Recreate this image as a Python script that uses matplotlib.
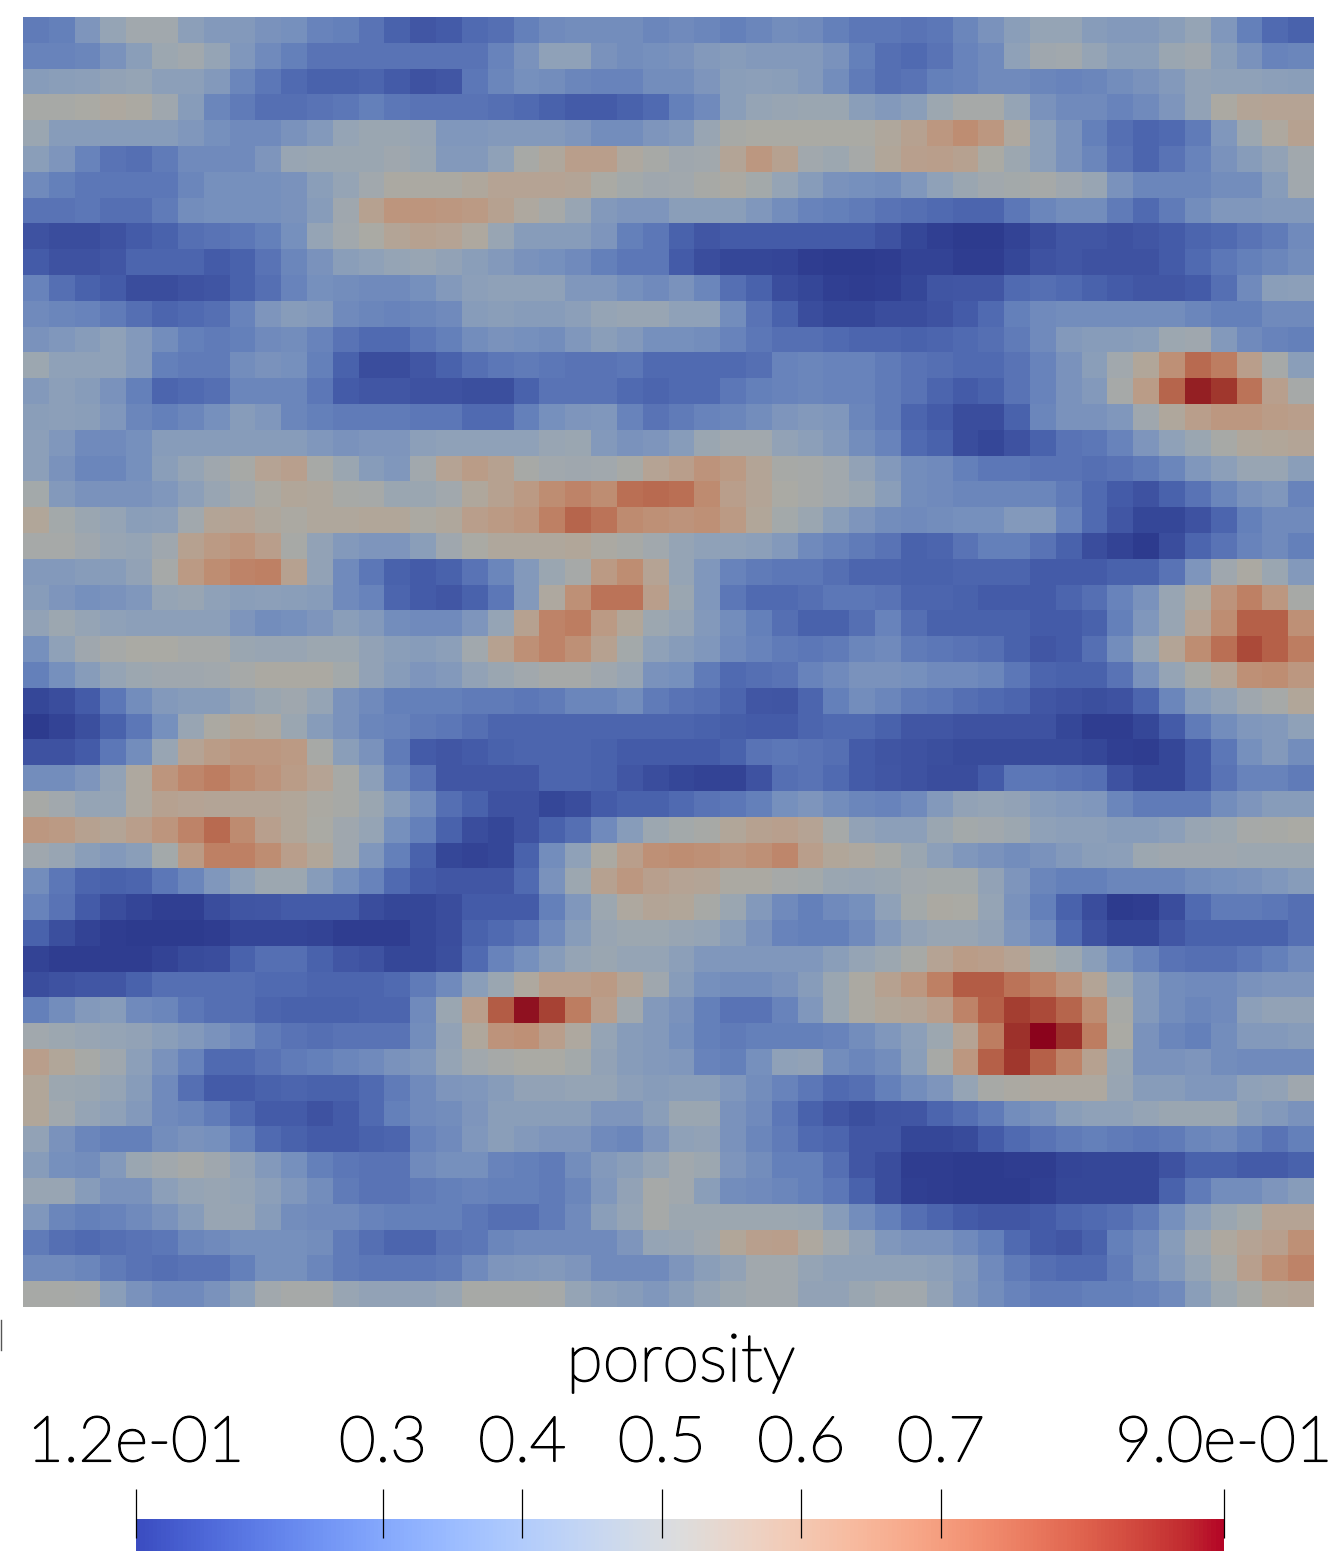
import numpy as np
import matplotlib
matplotlib.use("Agg")
import matplotlib.pyplot as plt
import matplotlib.patheffects as pe
from matplotlib.colors import ListedColormap, Normalize
from matplotlib.cm import ScalarMappable
from matplotlib.lines import Line2D

# porosity per cell, top row first
row_00 = [.26,.27,.34,.42,.47,.47,.39,.36,.36,.33,.32,.28,.27,.24,.2,.18,.19,.22,.23,.27,.3,.31,.31,.31,.29, .3,.29,.27,.29,.31,.3,.27,.25,.25,.24,.25,.29,.33,.38,.42,.42,.37,.36,.36,.38,.42,.35,.27,.22,.2]
row_01 = [.28,.28,.29,.33,.38,.45,.47,.42,.35,.3,.27,.24,.24,.24,.24,.24,.24,.24,.28,.33,.4,.4,.33,.31,.32, .33,.36,.37,.36,.36,.36,.33,.27,.23,.22,.24,.28,.3,.4,.46,.47,.42,.38,.38,.44,.46,.38,.33,.28,.29]
row_02 = [.37,.38,.39,.41,.42,.39,.39,.36,.29,.25,.22,.2,.2,.21,.19,.17,.18,.25,.29,.32,.31,.29,.28,.28,.31, .31,.34,.38,.39,.38,.36,.31,.26,.23,.24,.27,.28,.3,.3,.29,.28,.29,.31,.33,.36,.41,.4,.4,.39,.38]
row_03 = [.5,.5,.51,.53,.52,.46,.37,.29,.26,.23,.23,.24,.25,.27,.25,.24,.24,.24,.23,.22,.2,.19,.19,.2,.22, .27,.3,.38,.42,.43,.44,.44,.38,.36,.38,.45,.49,.49,.42,.33,.3,.3,.28,.3,.34,.41,.52,.56,.57,.57]
row_04 = [.44,.37,.37,.37,.37,.37,.35,.32,.3,.3,.33,.36,.42,.44,.44,.43,.35,.35,.36,.36,.36,.34,.31,.31,.34, .36,.43,.5,.51,.51,.51,.51,.51,.54,.58,.63,.67,.63,.53,.39,.33,.27,.23,.21,.22,.26,.35,.45,.53,.58]
row_05 = [.38,.34,.28,.24,.23,.26,.3,.3,.3,.34,.43,.44,.44,.44,.46,.44,.36,.36,.4,.5,.54,.6,.6,.53,.5, .46,.47,.56,.63,.58,.47,.45,.49,.55,.59,.6,.58,.51,.45,.39,.33,.29,.24,.21,.24,.28,.33,.37,.41,.47]
row_06 = [.3,.27,.25,.25,.25,.25,.29,.32,.32,.32,.33,.38,.42,.47,.52,.52,.52,.54,.57,.57,.57,.56,.51,.48,.46, .47,.5,.52,.48,.42,.37,.33,.32,.31,.35,.4,.44,.47,.48,.49,.46,.43,.33,.29,.29,.29,.31,.31,.37,.47]
row_07 = [.24,.24,.25,.23,.23,.26,.31,.32,.32,.32,.33,.37,.46,.58,.64,.64,.63,.62,.58,.53,.49,.43,.36,.34,.34, .38,.38,.38,.35,.31,.28,.27,.26,.24,.23,.22,.21,.21,.25,.29,.31,.31,.26,.22,.26,.31,.35,.35,.36,.36]
row_08 = [.17,.16,.16,.17,.19,.2,.23,.24,.25,.27,.32,.42,.47,.51,.56,.58,.57,.53,.43,.37,.37,.37,.34,.27,.25, .2,.18,.19,.19,.19,.19,.19,.19,.17,.15,.135,.125,.125,.14,.16,.18,.18,.17,.18,.19,.21,.22,.24,.26,.3]
row_09 = [.19,.17,.17,.18,.21,.21,.21,.19,.2,.24,.29,.33,.38,.4,.42,.43,.41,.38,.36,.33,.32,.3,.27,.25,.25, .19,.16,.15,.15,.145,.13,.125,.125,.13,.14,.14,.13,.13,.15,.17,.18,.17,.17,.17,.19,.22,.25,.27,.29,.31]
row_10 = [.28,.23,.2,.19,.16,.16,.17,.175,.2,.23,.28,.32,.31,.3,.3,.32,.36,.39,.4,.4,.4,.35,.35,.32,.3, .33,.29,.23,.2,.16,.15,.135,.13,.135,.15,.175,.18,.18,.22,.23,.22,.2,.19,.18,.18,.19,.23,.3,.38,.39]
row_11 = [.3,.29,.28,.26,.23,.21,.22,.23,.28,.34,.37,.36,.3,.29,.28,.29,.3,.37,.38,.37,.37,.39,.42,.43,.43, .4,.4,.31,.24,.2,.16,.15,.15,.16,.16,.17,.19,.22,.27,.3,.31,.31,.31,.31,.31,.29,.27,.27,.3,.3]
row_12 = [.33,.35,.37,.4,.36,.31,.27,.26,.27,.3,.31,.28,.24,.22,.22,.25,.27,.31,.33,.32,.31,.35,.38,.36,.32, .32,.31,.28,.25,.23,.23,.22,.21,.21,.2,.21,.22,.23,.26,.3,.36,.37,.37,.38,.45,.46,.36,.3,.28,.27]
row_13 = [.45,.4,.4,.4,.36,.27,.26,.26,.31,.33,.32,.27,.2,.16,.16,.18,.2,.23,.25,.26,.25,.24,.24,.25,.22, .22,.22,.22,.23,.28,.29,.28,.28,.26,.24,.23,.22,.22,.24,.28,.33,.38,.47,.55,.66,.76,.72,.6,.49,.38]
row_14 = [.36,.39,.37,.33,.27,.21,.22,.23,.29,.29,.29,.25,.19,.18,.18,.17,.17,.165,.165,.2,.24,.24,.24,.22,.21, .22,.22,.25,.27,.28,.29,.28,.28,.26,.24,.21,.19,.2,.24,.28,.33,.36,.49,.61,.77,.88,.85,.74,.59,.49]
row_15 = [.38,.39,.38,.35,.29,.27,.29,.32,.37,.35,.29,.27,.26,.26,.26,.25,.25,.22,.22,.27,.32,.34,.35,.28,.24, .26,.28,.29,.31,.34,.36,.35,.29,.26,.21,.19,.16,.16,.2,.29,.33,.33,.35,.46,.54,.6,.63,.63,.61,.6]
row_16 = [.39,.35,.3,.3,.32,.37,.37,.37,.37,.37,.37,.35,.33,.34,.34,.39,.4,.4,.4,.4,.43,.44,.36,.33,.34, .37,.44,.47,.47,.41,.39,.36,.31,.28,.22,.2,.16,.15,.17,.2,.24,.25,.28,.34,.4,.44,.5,.54,.55,.56]
row_17 = [.39,.33,.29,.29,.32,.38,.42,.46,.5,.57,.59,.5,.44,.37,.35,.47,.57,.61,.58,.5,.47,.46,.47,.5,.57, .6,.65,.62,.56,.5,.49,.47,.41,.36,.31,.3,.27,.25,.25,.24,.24,.23,.24,.26,.29,.35,.39,.43,.43,.38]
row_18 = [.48,.36,.33,.33,.33,.35,.39,.43,.47,.52,.55,.54,.5,.49,.44,.44,.47,.54,.58,.62,.67,.7,.67,.75,.76, .75,.68,.6,.56,.51,.49,.47,.44,.38,.31,.3,.29,.29,.29,.29,.26,.22,.19,.17,.2,.24,.29,.33,.35,.28]
row_19 = [.55,.48,.44,.42,.38,.39,.47,.56,.57,.54,.52,.54,.54,.55,.55,.52,.54,.6,.62,.64,.71,.77,.74,.68,.66, .65,.66,.62,.55,.48,.44,.38,.34,.31,.3,.31,.32,.32,.36,.36,.28,.22,.18,.15,.15,.17,.21,.27,.3,.3]
row_20 = [.49,.49,.46,.43,.42,.46,.58,.62,.64,.6,.5,.41,.36,.34,.34,.38,.46,.51,.54,.54,.54,.55,.52,.5,.47, .42,.4,.4,.39,.36,.3,.28,.26,.24,.2,.21,.24,.27,.27,.24,.2,.16,.14,.125,.16,.21,.24,.28,.3,.27]
row_21 = [.36,.36,.37,.37,.41,.49,.62,.67,.7,.71,.58,.41,.3,.25,.2,.19,.2,.24,.29,.36,.44,.49,.62,.67,.57, .42,.35,.28,.26,.25,.25,.23,.21,.21,.2,.2,.21,.21,.21,.19,.19,.19,.2,.2,.24,.34,.46,.52,.44,.36]
row_22 = [.37,.34,.32,.33,.35,.42,.43,.4,.38,.39,.38,.37,.3,.28,.21,.19,.18,.2,.25,.36,.53,.66,.74,.74,.6, .44,.35,.25,.22,.22,.23,.25,.25,.24,.21,.21,.2,.19,.19,.19,.21,.23,.28,.33,.43,.53,.65,.71,.63,.5]
row_23 = [.41,.45,.42,.4,.39,.39,.39,.39,.34,.31,.32,.34,.38,.36,.31,.3,.3,.34,.42,.58,.7,.72,.62,.55,.45, .42,.36,.31,.27,.23,.2,.2,.23,.28,.23,.2,.2,.2,.2,.19,.19,.2,.27,.35,.43,.57,.67,.78,.78,.66]
row_24 = [.32,.4,.46,.49,.51,.51,.49,.49,.44,.43,.43,.45,.45,.41,.38,.37,.39,.47,.58,.66,.7,.66,.58,.48,.4, .37,.35,.3,.28,.26,.25,.26,.29,.3,.26,.25,.24,.23,.2,.18,.19,.23,.31,.42,.56,.67,.75,.82,.78,.72]
row_25 = [.27,.32,.37,.42,.45,.46,.46,.47,.49,.52,.52,.52,.48,.41,.37,.34,.36,.41,.44,.47,.49,.49,.46,.43,.33, .32,.26,.22,.23,.24,.28,.3,.33,.33,.32,.3,.3,.29,.25,.21,.2,.2,.24,.33,.42,.5,.56,.66,.67,.63]
row_26 = [.15,.16,.19,.25,.31,.36,.37,.37,.41,.44,.46,.42,.33,.3,.27,.27,.27,.26,.26,.25,.26,.29,.29,.31,.26, .24,.23,.21,.18,.175,.21,.27,.31,.29,.26,.25,.23,.22,.21,.18,.17,.165,.17,.21,.29,.37,.41,.46,.49,.55]
row_27 = [.125,.14,.165,.2,.25,.32,.43,.52,.55,.53,.44,.37,.33,.29,.28,.26,.25,.23,.21,.21,.21,.21,.21,.21,.21, .21,.2,.195,.19,.19,.21,.22,.22,.2,.18,.18,.17,.17,.17,.17,.15,.13,.13,.15,.19,.26,.31,.35,.36,.4]
row_28 = [.17,.17,.19,.25,.31,.43,.57,.61,.63,.63,.62,.5,.38,.33,.26,.19,.18,.19,.2,.21,.21,.21,.2,.19,.19, .19,.19,.2,.24,.25,.24,.23,.19,.175,.17,.165,.155,.155,.155,.155,.155,.15,.135,.13,.15,.19,.25,.32,.36,.31]
row_29 = [.31,.31,.34,.41,.53,.64,.69,.72,.68,.65,.61,.57,.5,.39,.29,.24,.18,.18,.18,.18,.21,.21,.2,.18,.16, .15,.14,.14,.17,.23,.24,.22,.19,.18,.17,.16,.16,.19,.25,.25,.24,.23,.17,.15,.15,.19,.24,.28,.28,.26]
row_30 = [.5,.47,.42,.42,.53,.58,.57,.56,.56,.56,.55,.52,.5,.44,.37,.31,.23,.2,.17,.17,.15,.16,.19,.2,.2, .22,.24,.25,.27,.32,.34,.31,.29,.28,.3,.36,.41,.42,.41,.37,.36,.35,.29,.26,.26,.26,.31,.34,.37,.37]
row_31 = [.63,.62,.58,.56,.6,.64,.7,.76,.68,.59,.55,.51,.46,.42,.32,.27,.2,.16,.15,.17,.2,.23,.3,.37,.45, .48,.5,.55,.58,.59,.57,.49,.41,.39,.39,.44,.48,.47,.45,.4,.39,.39,.37,.37,.39,.43,.45,.49,.5,.51]
row_32 = [.46,.43,.38,.36,.38,.48,.62,.71,.71,.67,.6,.55,.46,.35,.27,.2,.15,.14,.15,.2,.31,.4,.52,.6,.66, .67,.66,.64,.66,.69,.6,.55,.53,.5,.44,.39,.35,.33,.31,.33,.36,.38,.39,.45,.46,.46,.46,.45,.45,.45]
row_33 = [.31,.25,.21,.2,.21,.25,.29,.35,.4,.45,.45,.37,.32,.28,.22,.19,.18,.18,.18,.22,.33,.45,.58,.63,.59, .57,.56,.52,.52,.49,.48,.44,.43,.44,.47,.48,.48,.41,.34,.29,.27,.27,.29,.29,.29,.31,.32,.33,.35,.37]
row_34 = [.28,.24,.19,.16,.145,.135,.135,.16,.175,.18,.19,.19,.19,.16,.15,.15,.16,.19,.19,.19,.27,.35,.45,.53,.56, .55,.5,.44,.36,.3,.27,.3,.32,.4,.48,.52,.51,.42,.33,.27,.2,.16,.125,.13,.16,.22,.26,.26,.25,.23]
row_35 = [.2,.165,.14,.13,.125,.12,.12,.13,.145,.145,.145,.14,.13,.13,.13,.15,.16,.2,.22,.24,.3,.37,.43,.45,.45, .43,.42,.38,.33,.28,.27,.27,.3,.36,.41,.43,.43,.41,.34,.3,.22,.17,.15,.15,.18,.2,.2,.2,.2,.23]
row_36 = [.14,.13,.13,.13,.13,.14,.155,.16,.2,.23,.23,.2,.18,.17,.15,.15,.165,.22,.28,.32,.37,.42,.44,.42,.42, .39,.35,.35,.35,.35,.35,.38,.42,.45,.5,.57,.61,.6,.57,.5,.45,.38,.32,.28,.24,.23,.23,.25,.27,.3]
row_37 = [.16,.17,.18,.18,.2,.23,.23,.23,.23,.22,.22,.21,.21,.21,.22,.26,.3,.38,.44,.53,.6,.6,.62,.56,.46, .37,.32,.31,.31,.33,.37,.44,.52,.58,.63,.71,.79,.79,.74,.71,.65,.56,.44,.36,.31,.3,.3,.33,.34,.34]
row_38 = [.27,.31,.36,.37,.3,.29,.25,.23,.23,.21,.2,.2,.2,.21,.21,.3,.44,.6,.79,.89,.83,.72,.6,.47,.36, .33,.27,.24,.24,.28,.35,.44,.52,.55,.56,.6,.7,.78,.84,.82,.77,.67,.5,.36,.31,.29,.3,.39,.41,.41]
row_39 = [.47,.45,.43,.42,.41,.38,.36,.33,.3,.26,.24,.23,.24,.24,.24,.31,.41,.54,.65,.66,.6,.53,.42,.37,.36, .32,.27,.26,.27,.27,.27,.28,.31,.35,.39,.45,.57,.72,.86,.9,.86,.72,.51,.33,.29,.27,.31,.36,.36,.37]
row_40 = [.6,.55,.5,.46,.39,.33,.28,.22,.22,.24,.26,.27,.29,.3,.33,.35,.42,.47,.49,.51,.51,.48,.41,.37,.36, .35,.28,.27,.32,.4,.41,.31,.29,.31,.38,.5,.63,.78,.85,.78,.7,.58,.44,.33,.33,.34,.31,.3,.3,.3]
row_41 = [.55,.45,.44,.42,.37,.3,.23,.19,.19,.2,.21,.2,.2,.22,.26,.3,.34,.35,.37,.41,.41,.42,.42,.39,.37, .38,.38,.35,.31,.28,.25,.22,.23,.27,.31,.34,.42,.5,.52,.53,.53,.53,.43,.37,.37,.35,.35,.4,.41,.46]
row_42 = [.55,.47,.42,.4,.36,.3,.29,.26,.22,.19,.19,.17,.19,.22,.27,.3,.31,.34,.38,.38,.38,.38,.34,.34,.38, .44,.44,.33,.3,.25,.2,.18,.165,.175,.18,.21,.23,.26,.31,.33,.38,.4,.4,.42,.44,.44,.44,.38,.36,.33]
row_43 = [.41,.33,.29,.27,.27,.31,.33,.32,.27,.22,.2,.19,.19,.2,.21,.28,.3,.35,.38,.36,.34,.34,.3,.29,.34, .4,.41,.33,.29,.26,.22,.21,.18,.18,.15,.15,.155,.19,.22,.24,.26,.27,.26,.25,.26,.29,.3,.27,.24,.27]
row_44 = [.37,.32,.31,.36,.44,.47,.49,.46,.41,.36,.32,.27,.25,.24,.24,.3,.32,.32,.28,.27,.26,.31,.36,.38,.42, .47,.45,.34,.31,.27,.27,.23,.18,.16,.13,.13,.125,.125,.13,.13,.145,.15,.15,.15,.17,.2,.2,.19,.19,.2]
row_45 = [.43,.43,.37,.33,.33,.39,.42,.43,.42,.39,.35,.31,.26,.24,.24,.26,.27,.28,.27,.27,.26,.29,.35,.41,.49, .47,.38,.31,.3,.29,.27,.25,.2,.16,.135,.13,.125,.12,.125,.135,.15,.15,.15,.15,.2,.26,.31,.31,.34,.37]
row_46 = [.35,.29,.27,.28,.3,.33,.37,.43,.43,.37,.31,.3,.3,.28,.27,.27,.27,.25,.23,.23,.26,.3,.38,.42,.49, .45,.45,.45,.45,.45,.44,.37,.31,.27,.23,.21,.19,.18,.18,.19,.21,.22,.23,.26,.32,.39,.44,.48,.57,.57]
row_47 = [.26,.23,.22,.23,.24,.25,.29,.3,.32,.32,.32,.31,.26,.23,.21,.21,.24,.25,.29,.3,.3,.3,.3,.34,.42, .43,.46,.55,.59,.6,.53,.47,.41,.35,.33,.33,.3,.27,.22,.19,.18,.2,.27,.3,.37,.46,.53,.57,.59,.66]
row_48 = [.3,.3,.29,.26,.24,.23,.24,.24,.27,.32,.32,.29,.26,.25,.25,.25,.26,.3,.34,.35,.36,.34,.3,.3,.3, .34,.38,.41,.47,.47,.42,.4,.4,.4,.4,.39,.36,.3,.26,.23,.22,.22,.26,.31,.36,.42,.49,.59,.66,.7]
row_49 = [.5,.5,.49,.38,.33,.3,.3,.33,.38,.47,.49,.49,.43,.41,.41,.41,.43,.5,.5,.5,.49,.42,.39,.37,.35, .38,.42,.45,.47,.47,.41,.41,.44,.47,.47,.41,.35,.31,.28,.26,.26,.27,.27,.28,.3,.38,.45,.5,.55,.56]

porosity = np.array([
    row_00, row_01, row_02, row_03, row_04, row_05, row_06, row_07, row_08, row_09,
    row_10, row_11, row_12, row_13, row_14, row_15, row_16, row_17, row_18, row_19,
    row_20, row_21, row_22, row_23, row_24, row_25, row_26, row_27, row_28, row_29,
    row_30, row_31, row_32, row_33, row_34, row_35, row_36, row_37, row_38, row_39,
    row_40, row_41, row_42, row_43, row_44, row_45, row_46, row_47, row_48, row_49,
])

tick_values = [0.123, 0.3, 0.4, 0.5, 0.6, 0.7, 0.903]
tick_labels = ["1.2e-01", "0.3", "0.4", "0.5", "0.6", "0.7", "9.0e-01"]
vmin, vmax = 0.123, 0.903

W, H = 1330, 1557
plt.rcParams["font.family"] = ["Lato", "DejaVu Sans"]


def px_axes(fig, x0, y0, x1, y1):
    # axes from pixel box, y measured from the top of the picture
    return fig.add_axes([x0 / W, 1 - y1 / H, (x1 - x0) / W, (y1 - y0) / H])


fig = plt.figure(figsize=(W / 100, H / 100), dpi=100, facecolor="white")

# the mesh is lit, so it looks darker and a bit flatter than the colour bar
base = plt.get_cmap("coolwarm")
t = np.linspace(0, 1, 256)
shaded = ListedColormap(base(t + 0.035 * np.sin(2 * np.pi * t))[:, :3] * [0.77, 0.77, 0.74])
norm = Normalize(vmin, vmax)

ax = px_axes(fig, 23, 17, 1314, 1307)
ax.pcolormesh(porosity, cmap=shaded, norm=norm, antialiased=False)
ax.set_ylim(porosity.shape[0], 0)
ax.axis("off")

# light face thickened a little, the reference strokes sit between light and regular
thicker = [pe.withStroke(linewidth=1.3, foreground="black")]

cax = px_axes(fig, 136, 1519, 1224, 1551)
fig.colorbar(ScalarMappable(norm=norm, cmap=base), cax=cax, orientation="horizontal")
cax.xaxis.set_ticks_position("top")
cax.set_xticks(tick_values, tick_labels, fontsize=45.5, fontweight="light", path_effects=thicker)
cax.tick_params(axis="x", length=0, pad=33)
cax.minorticks_off()
for spine in cax.spines.values():
    spine.set_visible(False)
cax.vlines(tick_values, 13 / 32, 62 / 32, color="black", linewidth=0.9,
           transform=cax.get_xaxis_transform(), clip_on=False)

fig.text(681 / W, 1 - 1381 / H, "porosity", fontsize=48, fontweight="light", ha="center", va="baseline",
         path_effects=thicker)
fig.add_artist(Line2D([0.5 / W, 0.5 / W], [1 - 1320 / H, 1 - 1350 / H], color="#555555", linewidth=1))

fig.savefig("out.png", dpi=100)
plt.close(fig)
